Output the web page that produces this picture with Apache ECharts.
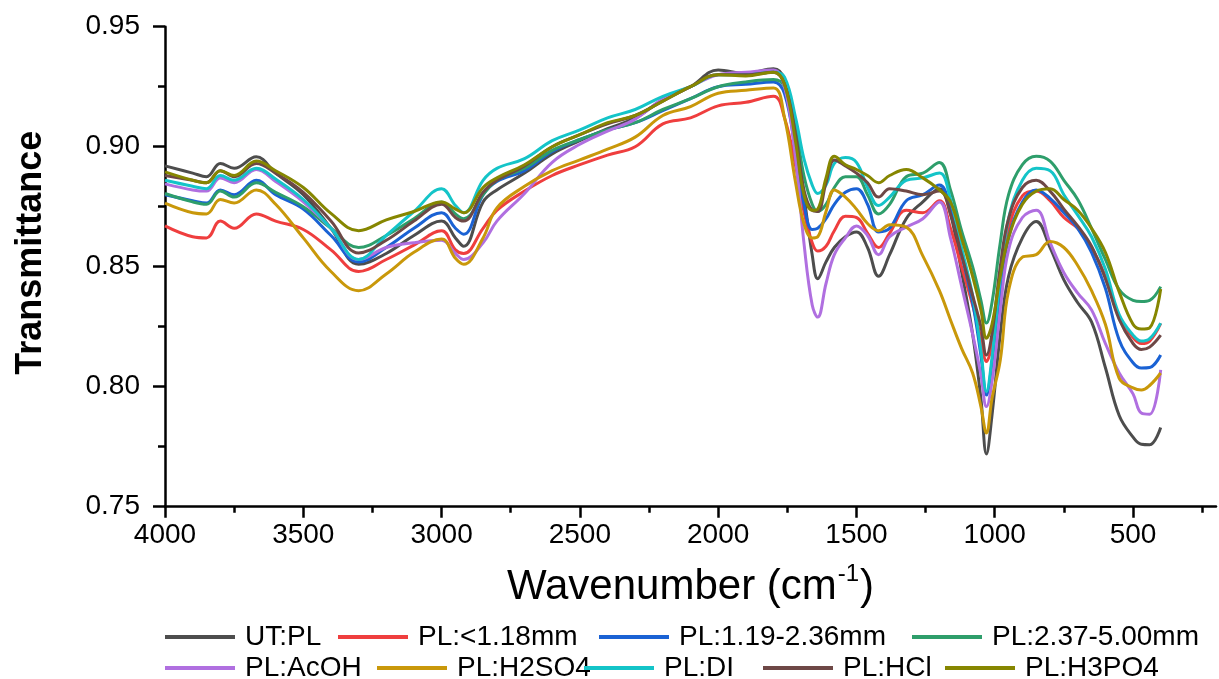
<!DOCTYPE html>
<html>
<head>
<meta charset="utf-8">
<title>FTIR</title>
<script src="https://cdn.jsdelivr.net/npm/echarts@6/dist/echarts.min.js"></script>
<style>
  html, body { margin: 0; padding: 0; background: #fff; }
  #chart { width: 1219px; height: 679px; }
</style>
</head>
<body>
<div id="chart"></div>
<script>
// wavenumber grid (cm-1), shared by every curve
const wavenumbers = [4000, 3900, 3850, 3800, 3750, 3670, 3600, 3500, 3400, 3300,
  3200, 3100, 3000, 2950, 2920, 2850, 2800, 2700, 2600, 2500,
  2400, 2300, 2200, 2100, 2000, 1900, 1800, 1760, 1720, 1690,
  1660, 1640, 1610, 1580, 1540, 1500, 1460, 1420, 1380, 1320,
  1260, 1200, 1160, 1120, 1080, 1050, 1030, 1010, 980, 950,
  900, 850, 800, 750, 700, 650, 600, 550, 500, 470,
  440, 400]

const utPL = [0.892, 0.889, 0.8875, 0.893, 0.891, 0.8958, 0.889, 0.880, 0.866, 0.851,
  0.8555, 0.863, 0.869, 0.862, 0.8585, 0.877, 0.882, 0.889, 0.897, 0.9025,
  0.9075, 0.912, 0.9195, 0.925, 0.932, 0.9305, 0.9325, 0.928, 0.905, 0.880,
  0.855, 0.845, 0.852, 0.858, 0.8625, 0.8645, 0.858, 0.846, 0.855, 0.870,
  0.877, 0.8825, 0.872, 0.848, 0.822, 0.795, 0.772, 0.788, 0.822, 0.846,
  0.862, 0.8688, 0.858, 0.8445, 0.835, 0.827, 0.808, 0.788, 0.779, 0.776,
  0.7758, 0.783]
const plSmall = [0.867, 0.8625, 0.862, 0.869, 0.866, 0.872, 0.869, 0.8655, 0.857, 0.848,
  0.853, 0.859, 0.865, 0.857, 0.8555, 0.866, 0.8735, 0.8815, 0.888, 0.8925,
  0.8965, 0.900, 0.9095, 0.912, 0.917, 0.9185, 0.921, 0.912, 0.892, 0.873,
  0.860, 0.8565, 0.8585, 0.865, 0.871, 0.8705, 0.864, 0.858, 0.864, 0.8735,
  0.8725, 0.8775, 0.866, 0.850, 0.834, 0.820, 0.8105, 0.818, 0.845, 0.866,
  0.8795, 0.8815, 0.8775, 0.8705, 0.866, 0.858, 0.846, 0.829, 0.8205, 0.818,
  0.819, 0.8264]
const plMid = [0.880, 0.8775, 0.8765, 0.882, 0.880, 0.886, 0.880, 0.874, 0.863, 0.852,
  0.858, 0.866, 0.8725, 0.866, 0.8635, 0.880, 0.8855, 0.890, 0.898, 0.903,
  0.907, 0.910, 0.915, 0.920, 0.925, 0.926, 0.927, 0.922, 0.898, 0.876,
  0.8655, 0.866, 0.870, 0.876, 0.881, 0.8825, 0.876, 0.8645, 0.866, 0.8775,
  0.880, 0.884, 0.874, 0.855, 0.835, 0.813, 0.7965, 0.810, 0.840, 0.862,
  0.877, 0.882, 0.8785, 0.8725, 0.866, 0.856, 0.841, 0.8195, 0.810, 0.8078,
  0.808, 0.8132]
const plLarge = [0.8805, 0.877, 0.876, 0.8815, 0.879, 0.885, 0.881, 0.875, 0.866, 0.858,
  0.863, 0.870, 0.877, 0.872, 0.870, 0.880, 0.886, 0.891, 0.8985, 0.903,
  0.907, 0.910, 0.9155, 0.920, 0.925, 0.927, 0.928, 0.925, 0.908, 0.888,
  0.876, 0.873, 0.876, 0.883, 0.8875, 0.8875, 0.880, 0.872, 0.876, 0.8875,
  0.889, 0.8934, 0.882, 0.865, 0.850, 0.836, 0.8265, 0.835, 0.860, 0.880,
  0.8925, 0.896, 0.894, 0.886, 0.878, 0.866, 0.853, 0.8405, 0.836, 0.8355,
  0.836, 0.8417]
const plAcOH = [0.8845, 0.882, 0.8815, 0.887, 0.885, 0.8905, 0.8855, 0.877, 0.866, 0.853,
  0.858, 0.860, 0.861, 0.8555, 0.853, 0.860, 0.869, 0.8805, 0.8935, 0.901,
  0.9065, 0.9115, 0.920, 0.925, 0.930, 0.931, 0.932, 0.925, 0.895, 0.860,
  0.834, 0.829, 0.843, 0.855, 0.862, 0.867, 0.863, 0.855, 0.8625, 0.8665,
  0.870, 0.877, 0.862, 0.842, 0.822, 0.805, 0.7917, 0.802, 0.832, 0.857,
  0.8705, 0.8735, 0.860, 0.8475, 0.839, 0.832, 0.818, 0.8057, 0.797, 0.789,
  0.7885, 0.807]
const plH2SO4 = [0.8765, 0.8725, 0.872, 0.878, 0.8765, 0.882, 0.876, 0.862, 0.848, 0.840,
  0.847, 0.856, 0.8615, 0.8535, 0.851, 0.862, 0.8745, 0.8835, 0.890, 0.8945,
  0.899, 0.904, 0.913, 0.9167, 0.9223, 0.9235, 0.9245, 0.912, 0.885, 0.868,
  0.862, 0.8625, 0.873, 0.882, 0.879, 0.874, 0.868, 0.865, 0.8675, 0.8665,
  0.8545, 0.840, 0.8278, 0.816, 0.8057, 0.7917, 0.7807, 0.795, 0.811, 0.840,
  0.854, 0.855, 0.8605, 0.858, 0.8505, 0.840, 0.826, 0.8035, 0.7995, 0.7986,
  0.8005, 0.8057]
const plDI = [0.886, 0.8835, 0.8825, 0.888, 0.886, 0.891, 0.8865, 0.878, 0.866, 0.853,
  0.863, 0.873, 0.8825, 0.8755, 0.8725, 0.886, 0.891, 0.895, 0.9025, 0.907,
  0.912, 0.9155, 0.921, 0.925, 0.930, 0.930, 0.931, 0.929, 0.912, 0.895,
  0.884, 0.8805, 0.884, 0.893, 0.8955, 0.8935, 0.883, 0.8755, 0.879, 0.886,
  0.887, 0.889, 0.878, 0.858, 0.838, 0.815, 0.798, 0.812, 0.845, 0.870,
  0.886, 0.891, 0.890, 0.880, 0.8715, 0.8625, 0.849, 0.830, 0.8215, 0.819,
  0.820, 0.8265]
const plHCl = [0.888, 0.886, 0.885, 0.890, 0.8875, 0.893, 0.889, 0.881, 0.869, 0.8557,
  0.861, 0.869, 0.876, 0.8705, 0.869, 0.881, 0.886, 0.892, 0.900, 0.905,
  0.9095, 0.913, 0.919, 0.925, 0.930, 0.930, 0.931, 0.926, 0.905, 0.882,
  0.8735, 0.873, 0.885, 0.8945, 0.892, 0.889, 0.885, 0.879, 0.8825, 0.8815,
  0.880, 0.8815, 0.872, 0.855, 0.838, 0.825, 0.8132, 0.822, 0.850, 0.870,
  0.883, 0.886, 0.8815, 0.874, 0.867, 0.8585, 0.845, 0.828, 0.818, 0.8155,
  0.8165, 0.8215]
const plH3PO4 = [0.8895, 0.886, 0.885, 0.890, 0.888, 0.894, 0.890, 0.883, 0.8722, 0.865,
  0.8695, 0.873, 0.877, 0.874, 0.8725, 0.883, 0.887, 0.8925, 0.900, 0.905,
  0.910, 0.913, 0.919, 0.925, 0.930, 0.9295, 0.931, 0.926, 0.902, 0.880,
  0.8735, 0.874, 0.887, 0.896, 0.8925, 0.8905, 0.888, 0.885, 0.888, 0.8905,
  0.887, 0.882, 0.877, 0.862, 0.846, 0.832, 0.8202, 0.826, 0.846, 0.862,
  0.876, 0.8815, 0.8825, 0.878, 0.8735, 0.866, 0.856, 0.8395, 0.826, 0.824,
  0.8245, 0.8407]

const seriesNames = ['UT:PL', 'PL:<1.18mm', 'PL:1.19-2.36mm', 'PL:2.37-5.00mm',
  'PL:AcOH', 'PL:H2SO4', 'PL:DI', 'PL:HCl', 'PL:H3PO4']
const seriesValues = [utPL, plSmall, plMid, plLarge, plAcOH, plH2SO4, plDI, plHCl, plH3PO4]
const xMajorTicks = [4000, 3500, 3000, 2500, 2000, 1500, 1000, 500]
const xMinorTicks = [3750, 3250, 2750, 2250, 1750, 1250, 750, 250]

const colors = ['#4d4d4d', '#ef3e3e', '#1a62d4', '#2e9e6b', '#b06fe0',
  '#c9980a', '#14c4c8', '#6e4846', '#868600']

// legend layout: left edge of each line sample and row top
const legendPos = [
  [165, 622], [338, 622], [599, 622], [912, 622],
  [165, 653], [377, 653], [584, 653], [763, 653], [945, 653]
]

const font = 'Liberation Sans, Arial, sans-serif'
const chart = echarts.init(document.getElementById('chart'))

const series = seriesNames.map((name, i) => ({
  name: name,
  type: 'line',
  xAxisIndex: 0,
  smooth: 0.4,
  showSymbol: false,
  lineStyle: { width: 3, color: colors[i] },
  itemStyle: { color: colors[i] },
  data: wavenumbers.map((w, j) => [w, seriesValues[i][j]])
}))

const legends = seriesNames.map((name, i) => ({
  data: [name],
  left: legendPos[i][0],
  top: legendPos[i][1],
  padding: 0,
  icon: 'rect',
  itemWidth: 70,
  itemHeight: 4,
  selectedMode: false,
  textStyle: { fontFamily: font, fontSize: 28, color: '#000', lineHeight: 30, padding: [0, 0, 0, 5] }
}))

const option = {
  animation: false,
  backgroundColor: '#fff',
  color: colors,
  grid: { left: 165, right: 3, top: 26.7, bottom: 172.3, containLabel: false },
  legend: legends,
  xAxis: [
    {
      type: 'value',
      position: 'bottom',
      inverse: true,
      min: 200,
      max: 4000,
      name: '{a|Wavenumber (cm}{s|-1}{a|)}',
      nameLocation: 'middle',
      nameGap: 56,
      nameTextStyle: {
        rich: {
          a: { fontFamily: font, fontSize: 42, color: '#000', lineHeight: 50 },
          s: { fontFamily: font, fontSize: 24, color: '#000', lineHeight: 50, verticalAlign: 'top', padding: [0, 1, 0, 1] }
        }
      },
      axisLine: { show: true, lineStyle: { color: '#000', width: 2.5 } },
      axisTick: { show: true, inside: false, length: 11, customValues: xMajorTicks, lineStyle: { color: '#000', width: 2.5 } },
      axisLabel: { customValues: xMajorTicks, margin: 15, fontFamily: font, fontSize: 28, color: '#000', formatter: v => String(v) },
      splitLine: { show: false }
    },
    {
      type: 'value',
      position: 'bottom',
      offset: 0,
      inverse: true,
      min: 200,
      max: 4000,
      axisLine: { show: false },
      axisTick: { show: true, inside: false, length: 6, customValues: xMinorTicks, lineStyle: { color: '#000', width: 2.5 } },
      axisLabel: { show: false },
      splitLine: { show: false }
    }
  ],
  yAxis: {
    type: 'value',
    min: 0.75,
    max: 0.95,
    interval: 0.05,
    name: 'Transmittance',
    nameLocation: 'middle',
    nameGap: 116,
    nameTextStyle: { fontFamily: font, fontSize: 36, fontWeight: 'bold', color: '#000', padding: [0, 0, 0, 28] },
    axisLine: { show: true, lineStyle: { color: '#000', width: 2.5 } },
    axisTick: { show: true, inside: false, length: 12, lineStyle: { color: '#000', width: 2.5 } },
    minorTick: { show: true, splitNumber: 2, length: 7, lineStyle: { color: '#000', width: 2.5 } },
    axisLabel: { margin: 25, fontFamily: font, fontSize: 28, color: '#000', formatter: v => v.toFixed(2) },
    splitLine: { show: false }
  },
  series: series
}

chart.setOption(option)
</script>
</body>
</html>
